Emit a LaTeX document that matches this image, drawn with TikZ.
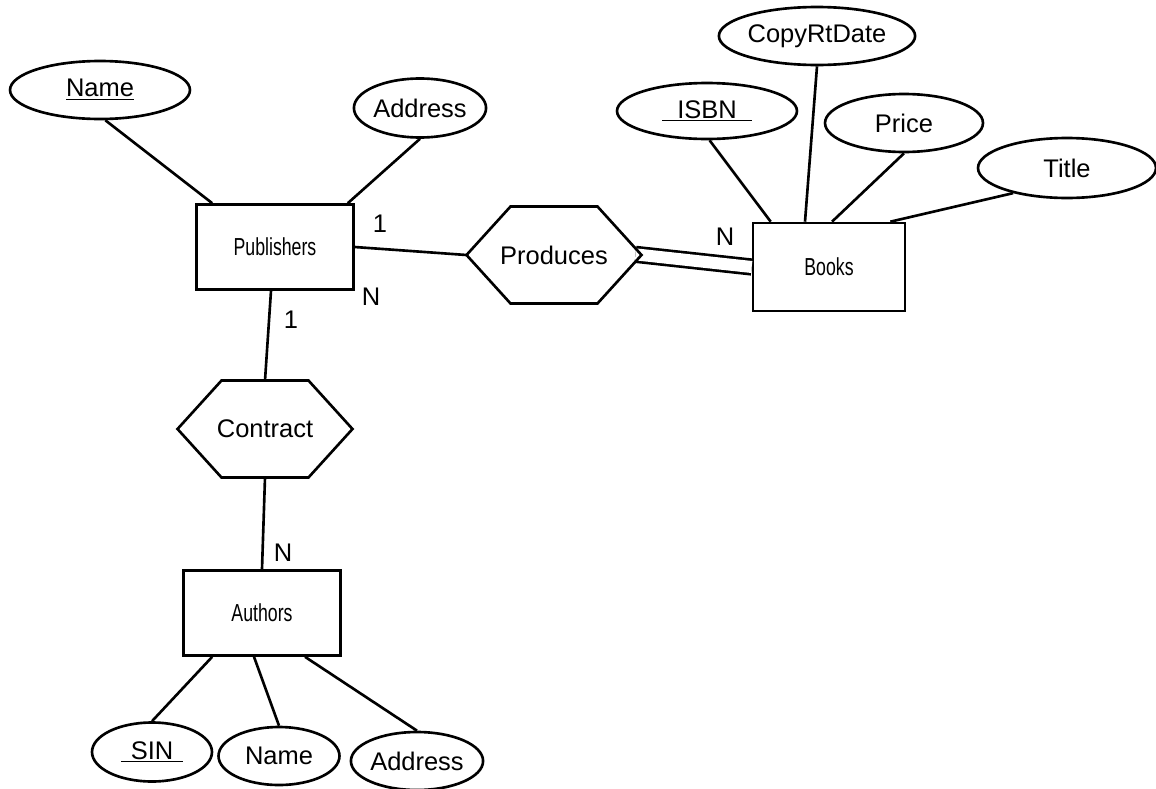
\documentclass[tikz,border=0pt]{standalone}
\usepackage{fontspec}
\setmainfont{Liberation Sans}
\newfontfamily\entfont[FakeStretch=0.72]{Liberation Sans}
\usetikzlibrary{shapes.geometric,calc}

\begin{document}
\begin{tikzpicture}[x=0.02cm,y=-0.02cm,line width=1.5pt,
  attr/.style={draw,ellipse,inner sep=0pt,font=\fontsize{14.5}{16}\selectfont},
  entity/.style={draw,rectangle,inner sep=0pt,minimum width=3.14cm,minimum height=1.7cm,font=\entfont\fontsize{14}{16}\selectfont},
  rel/.style={rectangle,inner sep=0pt,outer sep=0pt,minimum width=3.5cm,minimum height=1.94cm,font=\fontsize{14.5}{16}\selectfont},
  card/.style={inner sep=0pt,font=\fontsize{14.5}{16}\selectfont}]

        \useasboundingbox (0,0) rectangle (1156,788);

        \node (pub) [entity] at (275,247) {Publishers};
        \node (books) [entity,minimum width=3.04cm,minimum height=1.76cm] at (829,267) {Books};
        \node (auth) [entity] at (262,613) {Authors};

        \node (prod) [rel] at (554,255) {Produces};
        \node (con) [rel] at (265,429) {Contract};

        \node (pname) [attr,minimum width=3.6cm,minimum height=1.16cm] at (100,90) {\underline{Name}};
        \node (paddr) [attr,minimum width=2.4cm,minimum height=1.18cm] at (420,108) {Address};

        \node (isbn) [attr,minimum width=3.6cm,minimum height=1.12cm] at (707,111) {\underline{\hspace{0.3cm}ISBN\hspace{0.3cm}}};
        \node (crd) [attr,minimum width=3.56cm,minimum height=1.16cm] at (817,36) {CopyRtDate};
        \node (price) [attr,minimum width=3.16cm,minimum height=1.16cm] at (904,123) {Price};
        \node (title) [attr,minimum width=3.56cm,minimum height=1.2cm] at (1067,168) {Title};

        \node (sin) [attr,minimum width=2.4cm,minimum height=1.18cm] at (152,752) {\underline{\hspace{0.2cm}SIN\hspace{0.2cm}}};
        \node (aname) [attr,minimum width=2.42cm,minimum height=1.16cm] at (279,756) {Name};
        \node (aaddr) [attr,minimum width=2.4cm,minimum height=1.16cm] at (417,761) {Address};

        \node (c1) [card] at (380,224) {1};
        \node (c2) [card] at (371,297) {N};
        \node (c3) [card] at (291,320) {1};
        \node (c4) [card] at (725,237) {N};
        \node (c5) [card] at (283,553) {N};

        \draw (pname.-80) -- ($(pub.north west)+(17,0)$);
        \draw (paddr.south) -- ($(pub.north east)+(-7,0)$);
        \draw (pub.east) -- (prod.west);
        \draw ($(pub.south)+(-4,0)$) -- (con.north);
        \draw (con.south) -- (auth.north);
        \draw[double,double distance=0.24cm,shorten <=-0.12cm] (prod.east) -- (books.west);

        \draw (isbn.-85) -- ($(books.north west)+(19,0)$);
        \draw (crd.south) -- ($(books.north)+(-24,0)$);
        \draw (price.south) -- ($(books.north)+(3,0)$);
        \draw (title.205) -- ($(books.north east)+(-16,0)$);

        \draw (sin.north) -- ($(auth.south west)+(30,0)$);
        \draw (aname.north) -- ($(auth.south)+(-8,0)$);
        \draw (aaddr.north) -- ($(auth.south)+(43,0)$);

        \foreach \r in {prod,con}
          \draw (\r.west) -- ($(\r.north west)+(44,0)$) -- ($(\r.north east)+(-44,0)$) -- (\r.east)
            -- ($(\r.south east)+(-44,0)$) -- ($(\r.south west)+(44,0)$) -- cycle;
      \end{tikzpicture}
\end{document}
